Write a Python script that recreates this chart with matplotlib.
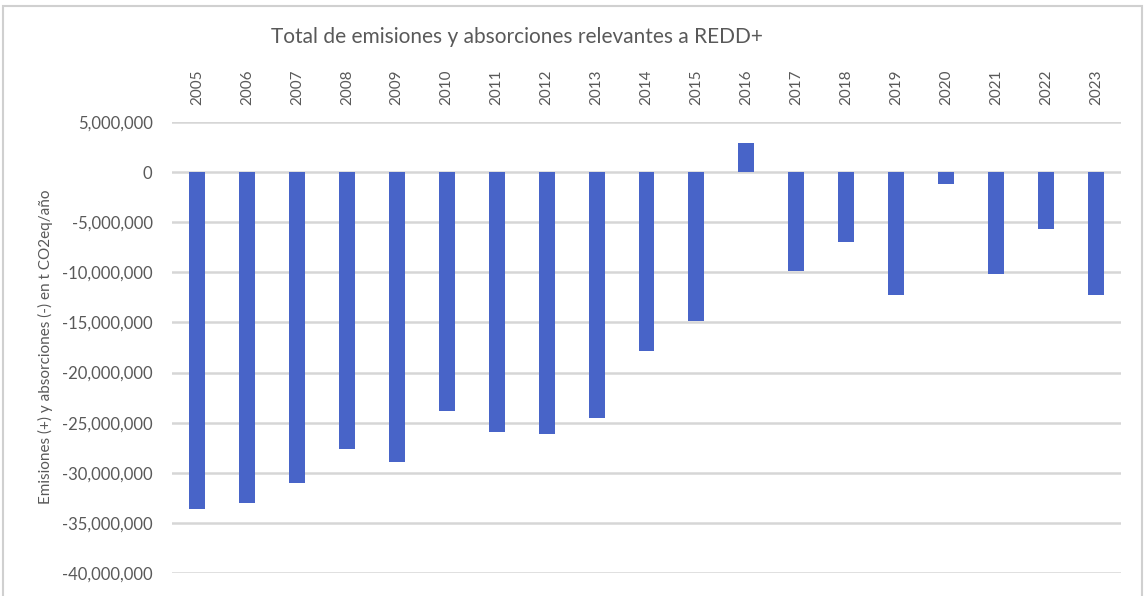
import matplotlib.pyplot as plt
from matplotlib.patches import Rectangle
from matplotlib.ticker import FuncFormatter

years = [str(y) for y in range(2005, 2024)]
# t CO2eq / año
totales = [-33.6e6, -33.0e6, -31.0e6, -27.6e6, -28.9e6, -23.8e6, -25.9e6,
           -26.1e6, -24.5e6, -17.8e6, -14.9e6, 2.9e6, -9.9e6, -7.0e6,
           -12.3e6, -1.2e6, -10.2e6, -5.7e6, -12.3e6]

plt.rcParams['font.family'] = ['Lato', 'DejaVu Sans']
gray_txt = '#595959'

W, H = 1145, 596
fig = plt.figure(figsize=(W / 100, H / 100), dpi=100)
ax = fig.add_axes([172 / W, 1 - 573 / H, (1121 - 172) / W, (573 - 122) / H])

x = range(len(years))
ax.bar(x, totales, width=0.32, color='#4864c8', zorder=3)

ax.set_xlim(-0.5, len(years) - 0.5)
ax.set_ylim(-40e6, 5e6)
ax.set_yticks(range(-40000000, 5000001, 5000000))
ax.yaxis.set_major_formatter(FuncFormatter(lambda v, p: f'{int(v):,}'))
ax.grid(axis='y', color='#d6d6d6', linewidth=1.8, zorder=0)

ax.xaxis.tick_top()
ax.set_xticks(list(x))
ax.set_xticklabels(years, rotation=90, fontsize=11, color=gray_txt)
ax.tick_params(axis='x', length=0, pad=12)
ax.tick_params(axis='y', length=0, pad=14, labelsize=12, labelcolor=gray_txt)
for s in ax.spines.values():
    s.set_visible(False)

fig.text(45 / W, 1 - 347 / H, 'Emisiones (+) y absorciones (-) en t CO2eq/año',
         rotation=90, ha='center', va='center', fontsize=11, color=gray_txt)
fig.text(517 / W, 1 - 37 / H, 'Total de emisiones y absorciones relevantes a REDD+',
         ha='center', va='center', fontsize=15, color=gray_txt)

# light frame around the chart area
fig.patches.append(Rectangle((3 / W, -0.05), (1142 - 3) / W, 1.05 - 6 / H,
                             transform=fig.transFigure, fill=False,
                             edgecolor='#d0d0d0', linewidth=1.5))

fig.savefig('out.png', dpi=100)
